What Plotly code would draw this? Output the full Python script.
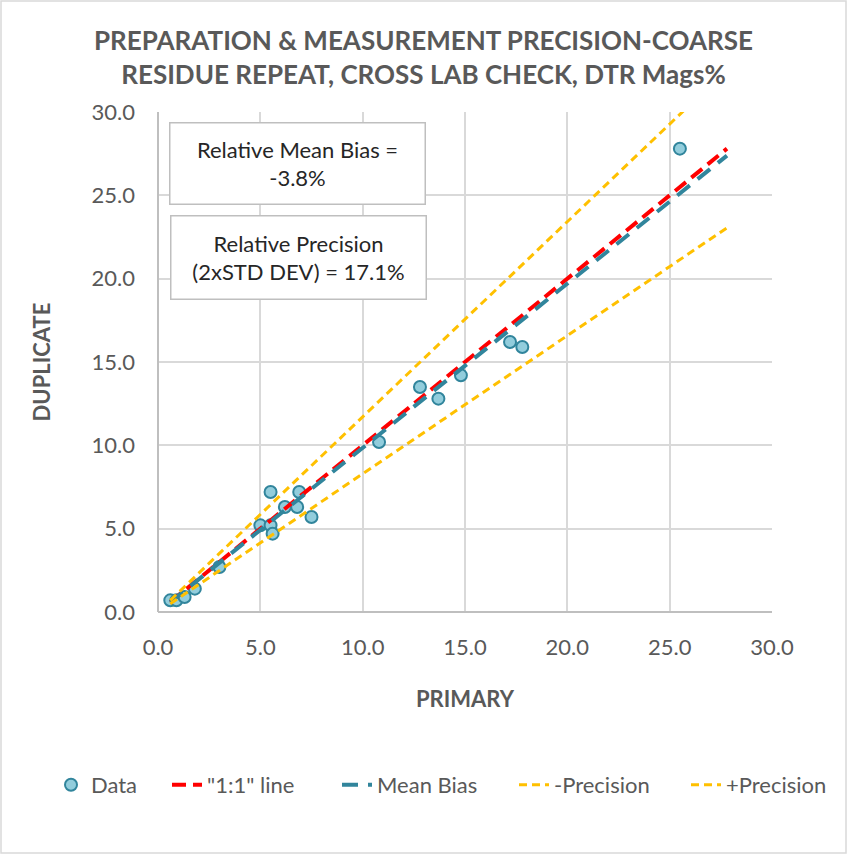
import plotly.graph_objects as go

# Duplicate pairs (Mags %)
primary = [0.6, 0.9, 1.3, 1.8, 3.0, 5.0, 5.5, 5.6, 5.5, 6.2, 6.8, 6.9, 7.5,
           10.8, 12.8, 13.7, 14.8, 17.2, 17.8, 25.5]
duplicate = [0.7, 0.7, 0.9, 1.4, 2.7, 5.2, 5.2, 4.7, 7.2, 6.3, 6.3, 7.2, 5.7,
             10.2, 13.5, 12.8, 14.2, 16.2, 15.9, 27.8]

rel_mean_bias = -3.8      # %
rel_precision = 17.1      # % (2 x std dev)
mean_bias_slope = 0.985   # slope of the fitted mean-bias line
line_range = [0.6, 27.8]

ticks = [0, 5, 10, 15, 20, 25, 30]
tick_text = ["0.0", "5.0", "10.0", "15.0", "20.0", "25.0", "30.0"]

FONT = "Lato"
GREY = "#595959"

# Plot area geometry in pixels (plot bottom edge measured from the top)
PLOT_L, PLOT_W, PLOT_B, PLOT_H = 158, 614, 612, 500
LEGEND_Y_PX = 785
legend_x_px = [51, 167, 337, 514, 686]

fig = go.Figure()
fig.add_trace(go.Scatter(
    x=primary, y=duplicate, mode="markers", name="Data", legend="legend",
    marker=dict(size=12, color="#92cddc", line=dict(color="#31859c", width=2)),
))
fig.add_trace(go.Scatter(
    x=line_range, y=line_range, mode="lines", name='"1:1" line', legend="legend2",
    line=dict(color="#ff0000", width=4, dash="14px,7px"),
))
fig.add_trace(go.Scatter(
    x=line_range, y=[v * mean_bias_slope for v in line_range], mode="lines",
    name="Mean Bias", legend="legend3",
    line=dict(color="#31859c", width=4, dash="16px,10px"),
))
fig.add_trace(go.Scatter(
    x=line_range, y=[v * (1 - rel_precision / 100) for v in line_range],
    mode="lines", name="-Precision", legend="legend4",
    line=dict(color="#ffc000", width=3, dash="8px,5px"),
))
fig.add_trace(go.Scatter(
    x=line_range, y=[v * (1 + rel_precision / 100) for v in line_range],
    mode="lines", name="+Precision", legend="legend5",
    line=dict(color="#ffc000", width=3, dash="8px,5px"),
))

axis_common = dict(
    range=[0, 30], tickvals=ticks, ticktext=tick_text,
    showgrid=True, gridcolor="#d9d9d9", gridwidth=1.5,
    zeroline=True, zerolinecolor="#bfbfbf", zerolinewidth=1.5,
    tickfont=dict(family=FONT, size=22, color=GREY),
    ticks="", fixedrange=True, automargin=False,
)

legends = {}
for i, px in enumerate(legend_x_px):
    key = "legend" if i == 0 else f"legend{i + 1}"
    legends[key] = dict(
        orientation="h", x=(px - PLOT_L) / PLOT_W, xanchor="left",
        y=-(LEGEND_Y_PX - PLOT_B) / PLOT_H, yanchor="middle",
        font=dict(family=FONT, size=22, color=GREY),
        bgcolor="rgba(0,0,0,0)",
    )

fig.update_layout(
    width=847, height=854,
    margin=dict(l=PLOT_L, r=847 - PLOT_L - PLOT_W, t=PLOT_B - PLOT_H,
                b=854 - PLOT_B),
    paper_bgcolor="white", plot_bgcolor="white",
    font=dict(family=FONT, color=GREY),
    title=dict(
        text="<b>PREPARATION & MEASUREMENT PRECISION-COARSE<br>"
             "RESIDUE REPEAT, CROSS LAB CHECK, DTR Mags%</b>",
        x=0.5, xanchor="center", y=0.941, yanchor="top",
        font=dict(family=FONT, size=26, color=GREY),
    ),
    xaxis=dict(axis_common, ticklabelstandoff=20,
               title=dict(text="<b>PRIMARY</b>", standoff=32,
                          font=dict(family=FONT, size=22, color=GREY))),
    yaxis=dict(axis_common, ticklabelstandoff=22,
               title=dict(text="<b>DUPLICATE</b>", standoff=34,
                          font=dict(family=FONT, size=22, color=GREY))),
    showlegend=True,
    **legends,
)

# Text boxes with the summary statistics
box_style = dict(xref="x", yref="y", showarrow=False, bgcolor="white",
                 bordercolor="#bfbfbf", borderwidth=1.5, width=252,
                 font=dict(family=FONT, size=22, color="#262626"), align="center")
fig.add_annotation(x=6.81, y=26.9, height=78,
                   text=f"Relative Mean Bias =<br>{rel_mean_bias:.1f}%", **box_style)
fig.add_annotation(x=6.86, y=21.27, height=80,
                   text=f"Relative Precision<br>(2xSTD DEV) = {rel_precision:.1f}%",
                   **box_style)

# Outer chart border
fig.add_shape(type="rect", xref="paper", yref="paper",
              x0=-157 / 614, x1=688 / 614, y0=-241 / 500, y1=611 / 500,
              line=dict(color="#d9d9d9", width=1.5), layer="below")

fig.write_html("out.html")
